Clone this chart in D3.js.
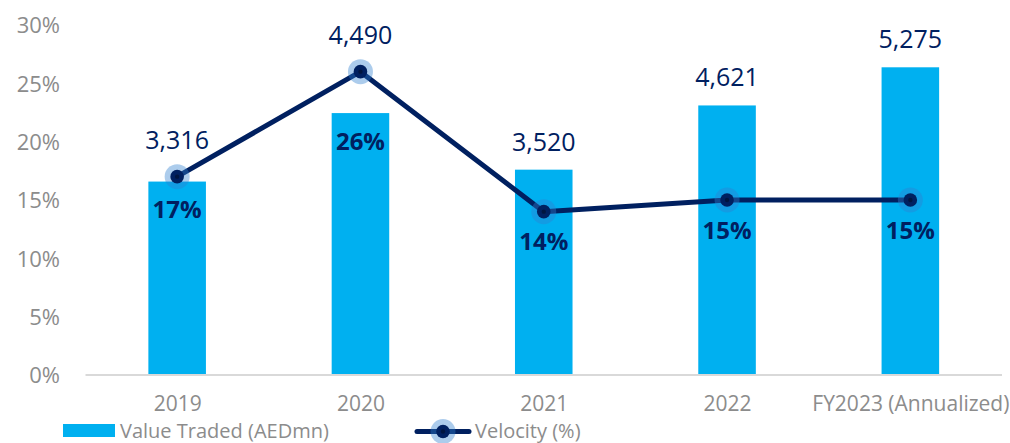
<!DOCTYPE html>
<html>
<head>
<meta charset="utf-8">
<script src="https://cdn.jsdelivr.net/npm/d3@7"></script>
<style>
  html, body { margin: 0; padding: 0; background: #ffffff; }
  svg { display: block; font-family: "Open Sans", "DejaVu Sans", sans-serif; }
</style>
</head>
<body>
<svg id="chart" width="1010" height="443"></svg>
<script>
// Market value traded (AED mn, bars) and velocity (% of market cap, line)
const categories = ["2019", "2020", "2021", "2022", "FY2023 (Annualized)"];
const valueTraded = [3316, 4490, 3520, 4621, 5275];
const velocity = [0.17, 0.26, 0.14, 0.15, 0.15];
const pctTicks = [0, 0.05, 0.10, 0.15, 0.20, 0.25, 0.30];

const barColor = "#00b0f0";
const navy = "#002060";
const grey = "#8c8c8c";

const svg = d3.select("#chart");

const x = d3.scalePoint().domain(categories).range([85.5, 1002]).padding(0.5);
const barW = x.step() * 0.314;
const yPct = d3.scaleLinear().domain([0, 0.30]).range([375, 25]);
const yVal = d3.scaleLinear().domain([0, 6000]).range([375, 25]);

// Left percentage axis (labels only)
const yAxis = d3.axisLeft(yPct).tickValues(pctTicks)
  .tickFormat(d3.format(".0%")).tickSize(0).tickPadding(0);
const gy = svg.append("g").attr("transform", "translate(60,0)").call(yAxis);
gy.select(".domain").remove();
gy.selectAll("text")
  .attr("fill", grey).attr("font-size", 22)
  .attr("font-family", "'Open Sans', sans-serif").attr("dy", "0.36em");

// Bars
svg.append("g").selectAll("rect").data(categories).join("rect")
  .attr("x", d => x(d) - barW / 2)
  .attr("y", (d, i) => yVal(valueTraded[i]))
  .attr("width", barW)
  .attr("height", (d, i) => yVal(0) - yVal(valueTraded[i]))
  .attr("fill", barColor);

// Category axis
const xAxis = d3.axisBottom(x).tickSize(0).tickPadding(0);
const gx = svg.append("g").attr("transform", `translate(0,${yVal(0)})`).call(xAxis);
gx.select(".domain").attr("stroke", "#d9d9d9").attr("stroke-width", 2)
  .attr("d", `M${x.range()[0]},0H${x.range()[1]}`);
gx.selectAll("text")
  .attr("fill", grey).attr("font-size", 21)
  .attr("font-family", "'Open Sans', sans-serif").attr("y", 35.5).attr("dy", 0);

// Velocity line
const line = d3.line().x((d, i) => x(categories[i])).y(d => yPct(d));
svg.append("path").datum(velocity)
  .attr("d", line).attr("fill", "none")
  .attr("stroke", navy).attr("stroke-width", 5)
  .attr("stroke-linejoin", "round");

function marker(g, cx, cy) {
  g.append("circle").attr("cx", cx).attr("cy", cy).attr("r", 12.5)
    .attr("fill", "#2f7fd0").attr("fill-opacity", 0.4);
  g.append("circle").attr("cx", cx).attr("cy", cy).attr("r", 6.8).attr("fill", navy);
  g.append("circle").attr("cx", cx).attr("cy", cy).attr("r", 2.2).attr("fill", "#001540");
}
const mg = svg.append("g");
velocity.forEach((v, i) => marker(mg, x(categories[i]), yPct(v)));

// Value labels above bars, lifted clear of the line markers where needed
svg.append("g").selectAll("text").data(categories).join("text")
  .attr("x", d => x(d))
  .attr("y", (d, i) => Math.min(yVal(valueTraded[i]) - 28, yPct(velocity[i]) - 37))
  .attr("dy", "0.36em")
  .attr("text-anchor", "middle")
  .attr("font-size", 25)
  .attr("fill", navy)
  .text((d, i) => d3.format(",")(valueTraded[i]));

// Velocity labels below markers, kept inside the bar when the marker sits above it
svg.append("g").selectAll("text").data(categories).join("text")
  .attr("x", d => x(d))
  .attr("y", (d, i) => Math.max(yPct(velocity[i]) + 30, yVal(valueTraded[i]) + 28))
  .attr("dy", "0.36em")
  .attr("text-anchor", "middle")
  .attr("font-size", 24)
  .attr("font-weight", 700)
  .attr("fill", navy)
  .text((d, i) => d3.format(".0%")(velocity[i]));

// Legend
const lg = svg.append("g");
lg.append("rect").attr("x", 63).attr("y", 424).attr("width", 52).attr("height", 13).attr("fill", barColor);
lg.append("text").attr("x", 120).attr("y", 431).attr("dy", "0.36em")
  .attr("font-size", 20).attr("fill", grey).text("Value Traded (AEDmn)");
lg.append("line").attr("x1", 417).attr("x2", 469).attr("y1", 431.5).attr("y2", 431.5)
  .attr("stroke", navy).attr("stroke-width", 5).attr("stroke-linecap", "round");
marker(lg, 443, 431.5);
lg.append("text").attr("x", 475).attr("y", 431).attr("dy", "0.36em")
  .attr("font-size", 20).attr("fill", grey).text("Velocity (%)");
</script>
</body>
</html>
